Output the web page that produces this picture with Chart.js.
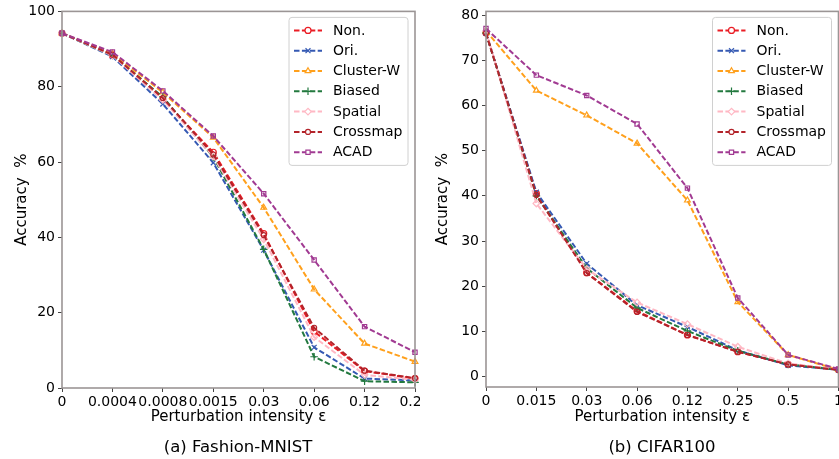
<!DOCTYPE html>
<html><head><meta charset="utf-8">
<script src="https://cdn.jsdelivr.net/npm/chart.js@4.4.1/dist/chart.umd.min.js"></script>
<style>
html,body{margin:0;padding:0;background:#fff;overflow:hidden;width:839px;height:459px;}
.panel{position:absolute;top:0;height:459px;overflow:hidden;}
.cap{position:absolute;top:437px;font-family:"DejaVu Sans";font-size:16.5px;line-height:20px;color:#000;white-space:nowrap;transform:translateX(-50%);}
</style></head><body>
<div class="panel" style="left:0;width:420px"><canvas id="c1" width="440" height="459"></canvas></div>
<div class="panel" style="left:420px;width:419px"><canvas id="c2" width="460" height="459"></canvas></div>
<div class="cap" style="left:238px">(a) Fashion-MNIST</div>
<div class="cap" style="left:662px">(b) CIFAR100</div>
<script>
// ---- data ----
const seriesNames = ['Non.', 'Ori.', 'Cluster-W', 'Biased', 'Spatial', 'Crossmap', 'ACAD'];

const fmnistLabels = ['0', '0.0004', '0.0008', '0.0015', '0.03', '0.06', '0.12', '0.25'];
const fmnistNon      = [94.2, 88.3, 76.6, 62.6, 41.0, 15.0, 4.5, 2.5];
const fmnistOri      = [94.2, 88.0, 75.4, 59.8, 36.6, 10.8, 2.5, 2.0];
const fmnistClusterW = [94.2, 88.8, 78.5, 66.5, 47.9, 26.2, 11.8, 7.0];
const fmnistBiased   = [94.2, 88.3, 77.3, 61.3, 36.8, 8.3, 1.8, 1.5];
const fmnistSpatial  = [94.2, 88.3, 76.5, 61.5, 39.5, 13.5, 3.5, 2.2];
const fmnistCrossmap = [94.2, 88.5, 77.0, 62.0, 40.6, 16.0, 4.6, 2.6];
const fmnistACAD     = [94.2, 89.2, 78.9, 66.9, 51.6, 34.0, 16.3, 9.5];
const fmnistYTicks = [0, 20, 40, 60, 80, 100];

const cifarLabels = ['0', '0.015', '0.03', '0.06', '0.12', '0.25', '0.5', '1'];
const cifarNon      = [76.0, 40.5, 23.0, 14.5, 9.2, 5.5, 2.7, 1.5];
const cifarOri      = [76.0, 40.8, 25.0, 15.8, 11.0, 5.8, 2.5, 1.5];
const cifarClusterW = [76.5, 63.3, 57.8, 51.6, 39.0, 16.5, 4.8, 1.5];
const cifarBiased   = [76.0, 40.0, 24.0, 15.2, 10.1, 5.7, 2.7, 1.5];
const cifarSpatial  = [76.5, 38.3, 23.8, 16.4, 11.6, 6.6, 2.9, 1.6];
const cifarCrossmap = [76.0, 40.2, 22.9, 14.3, 9.2, 5.5, 2.7, 1.5];
const cifarACAD     = [77.0, 66.7, 62.2, 55.9, 41.7, 17.4, 4.8, 1.7];
const cifarYTicks = [0, 10, 20, 30, 40, 50, 60, 70, 80];

// ---- styles ----
const colors = ['#ea1d25', '#3559b3', '#ffa01c', '#23793f', '#ffb8c4', '#b3232a', '#a13a92'];
const markers = ['circle', 'crossRot', 'triangle', 'cross', 'rectRot', 'circle', 'rect'];
const markerRadius = [3, 3.5, 3.3, 3.8, 3.3, 2.5, 3];
const FONT = '"DejaVu Sans", "Liberation Sans", sans-serif';

function makeDatasets(seriesList) {
  return seriesList.map((vals, i) => ({
    label: seriesNames[i],
    data: vals,
    borderColor: colors[i],
    backgroundColor: colors[i],
    borderWidth: 2,
    borderDash: [5.5, 2.4],
    pointStyle: markers[i],
    pointRadius: markerRadius[i],
    pointBorderWidth: 1.2,
    pointBorderColor: colors[i],
    pointBackgroundColor: 'rgba(255,255,255,0)',
    tension: 0,
    clip: false,
    order: seriesNames.length - i
  }));
}

function roundRectPath(ctx, x, y, w, h, r) {
  ctx.beginPath();
  ctx.moveTo(x + r, y);
  ctx.lineTo(x + w - r, y); ctx.arcTo(x + w, y, x + w, y + r, r);
  ctx.lineTo(x + w, y + h - r); ctx.arcTo(x + w, y + h, x + w - r, y + h, r);
  ctx.lineTo(x + r, y + h); ctx.arcTo(x, y + h, x, y + h - r, r);
  ctx.lineTo(x, y + r); ctx.arcTo(x, y, x + r, y, r);
  ctx.closePath();
}

const framePlugin = {
  id: 'frame',
  afterDatasetsDraw(chart) {
    const ctx = chart.ctx, a = chart.chartArea;
    ctx.save();
    ctx.strokeStyle = '#9b9595';
    ctx.lineWidth = 1.6;
    ctx.strokeRect(a.left, a.top, a.right - a.left, a.bottom - a.top);
    ctx.restore();
  }
};

const legendPlugin = {
  id: 'insideLegend',
  afterDraw(chart) {
    const ctx = chart.ctx, a = chart.chartArea;
    const w = 119, h = 148;
    const x0 = a.right - 7 - w, y0 = a.top + 6;
    ctx.save();
    roundRectPath(ctx, x0, y0, w, h, 3);
    ctx.fillStyle = 'rgba(255,255,255,0.85)';
    ctx.fill();
    ctx.strokeStyle = '#d0d0d0';
    ctx.lineWidth = 1;
    ctx.stroke();
    chart.data.datasets.forEach((ds, i) => {
      const cy = y0 + 13 + i * 20.3;
      ctx.save();
      ctx.strokeStyle = ds.borderColor;
      ctx.lineWidth = ds.borderWidth;
      ctx.setLineDash(ds.borderDash);
      ctx.beginPath();
      ctx.moveTo(x0 + 5, cy);
      ctx.lineTo(x0 + 33, cy);
      ctx.stroke();
      ctx.setLineDash([]);
      ctx.fillStyle = '#ffffff';
      ctx.strokeStyle = ds.borderColor;
      ctx.lineWidth = ds.pointBorderWidth;
      Chart.helpers.drawPoint(ctx, {
        pointStyle: ds.pointStyle, radius: ds.pointRadius,
        borderWidth: ds.pointBorderWidth, rotation: 0
      }, x0 + 19, cy);
      ctx.restore();
      ctx.fillStyle = '#000';
      ctx.font = '14px ' + FONT;
      ctx.textBaseline = 'middle';
      ctx.textAlign = 'left';
      ctx.fillText(ds.label, x0 + 44, cy + 0.5);
    });
    ctx.restore();
  }
};

function makeChart(id, labels, seriesList, yMin, yMax, yTicks, cfg) {
  return new Chart(document.getElementById(id), {
    type: 'line',
    data: { labels: labels, datasets: makeDatasets(seriesList) },
    options: {
      responsive: false,
      animation: false,
      devicePixelRatio: 1,
      layout: { padding: { left: cfg.padLeft, right: cfg.padRight, top: 10, bottom: 31 } },
      plugins: { legend: { display: false }, tooltip: { enabled: false } },
      scales: {
        x: {
          type: 'category',
          offset: false,
          grid: { display: true, drawOnChartArea: false, drawTicks: true, tickLength: 4, color: '#444', lineWidth: 1 },
          border: { display: false },
          ticks: { autoSkip: false, maxRotation: 0, minRotation: 0, padding: 2, color: '#000', font: { family: FONT, size: 14 } },
          title: { display: true, text: 'Perturbation intensity ε', color: '#000', font: { family: FONT, size: 15 }, padding: { top: 0, bottom: 2 } },
          afterFit(s) { s.height = cfg.xHeight; }
        },
        y: {
          min: yMin, max: yMax,
          grid: { display: true, drawOnChartArea: false, drawTicks: true, tickLength: 4, color: '#444', lineWidth: 1 },
          border: { display: false },
          ticks: { padding: 3, color: '#000', font: { family: FONT, size: 14 } },
          afterBuildTicks(s) { s.ticks = yTicks.map(v => ({ value: v })); },
          title: { display: true, text: 'Accuracy  %', color: '#000', font: { family: FONT, size: 15 }, padding: { top: 4, bottom: 0 } },
          afterFit(s) { s.width = cfg.yWidth; }
        }
      }
    },
    plugins: [framePlugin, legendPlugin]
  });
}

makeChart('c1', fmnistLabels,
  [fmnistNon, fmnistOri, fmnistClusterW, fmnistBiased, fmnistSpatial, fmnistCrossmap, fmnistACAD],
  0, 100, fmnistYTicks,
  { padLeft: 9, yWidth: 53, padRight: 25, xHeight: 40 });

makeChart('c2', cifarLabels,
  [cifarNon, cifarOri, cifarClusterW, cifarBiased, cifarSpatial, cifarCrossmap, cifarACAD],
  -2.3, 80.8, cifarYTicks,
  { padLeft: 10, yWidth: 56, padRight: 41.5, xHeight: 41 });
</script>
</body></html>
